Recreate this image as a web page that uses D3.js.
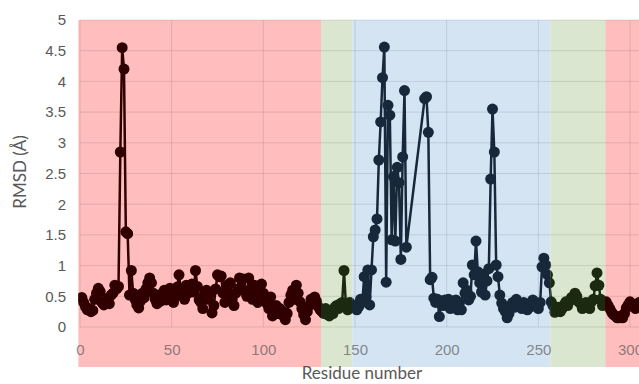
<!DOCTYPE html>
<html>
<head>
<meta charset="utf-8">
<script src="https://cdn.jsdelivr.net/npm/d3@7"></script>
<style>
  body { margin: 0; background: #fff; }
  svg { display: block; font-family: Lato, "Open Sans", sans-serif; }
</style>
</head>
<body>
<script>
// residues 1..178, then 188..305 (gap in the data, line joins across it)
const residues = d3.range(1, 179).concat(d3.range(188, 306));

const rmsdA = [
  0.48, 0.40, 0.33, 0.28, 0.30, 0.25, 0.27, 0.45, 0.55, 0.63,
  0.58, 0.40, 0.36, 0.42, 0.47, 0.38, 0.52, 0.55, 0.68, 0.62,
  0.66, 2.85, 4.55, 4.20, 1.55, 1.52, 0.52, 0.92, 0.55, 0.45,
  0.36, 0.31, 0.42, 0.55, 0.48, 0.62, 0.72, 0.80, 0.72, 0.55,
  0.45, 0.38, 0.50, 0.42, 0.55, 0.60, 0.44, 0.52, 0.63, 0.58,
  0.40, 0.50, 0.65, 0.85, 0.62, 0.57, 0.45, 0.68, 0.55, 0.62,
  0.70, 0.57, 0.92, 0.66, 0.44, 0.40, 0.30, 0.55, 0.60, 0.45,
  0.55, 0.23, 0.35, 0.62, 0.85, 0.82, 0.83, 0.55, 0.40, 0.68,
  0.50, 0.72, 0.45, 0.35, 0.55, 0.62, 0.80, 0.65, 0.78, 0.58,
  0.50, 0.80, 0.60, 0.45, 0.68, 0.55, 0.40, 0.62, 0.70, 0.55,
  0.45, 0.38, 0.30, 0.49, 0.18, 0.25, 0.35, 0.22, 0.30, 0.20,
  0.25, 0.12, 0.22, 0.40, 0.52, 0.60, 0.45, 0.68, 0.55, 0.41,
  0.30, 0.20, 0.12, 0.25, 0.35, 0.45, 0.38, 0.49, 0.42, 0.33,
  0.28, 0.25, 0.22, 0.30, 0.20, 0.18, 0.26, 0.22, 0.32, 0.35,
  0.30, 0.38, 0.40, 0.92, 0.38, 0.28, 0.40, 0.35, 0.32, 0.35,
  0.28, 0.33, 0.45, 0.40, 0.82, 0.49, 0.93, 0.36, 0.93, 1.47,
  1.58, 1.76, 2.72, 3.34, 4.06, 4.56, 0.73, 3.61, 3.45, 1.42,
  2.45, 1.40, 2.60, 2.35, 1.10, 2.77, 3.85, 1.30
];
const rmsdB = [
  3.72, 3.75, 3.17,
  0.77, 0.81, 0.47, 0.40, 0.45, 0.17, 0.42, 0.35, 0.44, 0.38,
  0.45, 0.30, 0.42, 0.36, 0.44, 0.28, 0.40, 0.28, 0.72, 0.55,
  0.60, 0.44, 0.50, 1.01, 0.85, 1.40, 0.90, 0.72, 0.57, 0.86,
  0.52, 0.75, 0.95, 2.41, 3.55, 2.85, 1.01, 0.82, 0.52, 0.39,
  0.30, 0.25, 0.15, 0.22, 0.35, 0.40, 0.32, 0.45, 0.38, 0.33,
  0.30, 0.40, 0.36, 0.28, 0.32, 0.38, 0.44, 0.36, 0.33, 0.30,
  0.40, 0.98, 1.12, 1.01, 0.85, 0.72, 0.41, 0.35, 0.24, 0.28,
  0.32, 0.25, 0.30, 0.36, 0.41, 0.35, 0.42, 0.48, 0.45, 0.55,
  0.50, 0.41, 0.38, 0.30, 0.36, 0.40, 0.33, 0.30, 0.41, 0.45,
  0.67, 0.88, 0.68, 0.45, 0.35, 0.40, 0.41, 0.35, 0.30, 0.24,
  0.20, 0.18, 0.15, 0.15, 0.18, 0.15, 0.22, 0.31, 0.36, 0.41,
  0.38, 0.33, 0.30, 0.36, 0.40
];
const rmsd = rmsdA.concat(rmsdB);

const xTicks = [0, 50, 100, 150, 200, 250, 300, 350];
const yTicks = [0, 0.5, 1, 1.5, 2, 2.5, 3, 3.5, 4, 4.5, 5];

// domain regions: [start, end, band colour, mark colour]
const bandStarts = [-1, 131.5, 148.5, 256.5, 286.5];
const bandEnds   = [131.5, 148.5, 256.5, 286.5, 360];
const bandFill   = ['#ffbdbd', '#dae6cf', '#d4e4f3', '#dae6cf', '#ffbdbd'];
const markFill   = ['#300000', '#1c2a12', '#17283a', '#1c2a12', '#300000'];

const data = residues.map((r, i) => ({ r: r, v: rmsd[i] }));

const W = 639, H = 384;
const svg = d3.select('body').append('svg')
  .attr('width', W).attr('height', H);

const x = d3.scaleLinear().domain([0, 300]).range([80, 630]);
const y = d3.scaleLinear().domain([0, 5]).range([327, 20]);

// background bands
svg.append('g').selectAll('rect')
  .data(bandStarts)
  .join('rect')
  .attr('x', (d, i) => x(d) + (i === 0 ? 0.2 : 0))
  .attr('y', 20)
  .attr('width', (d, i) => x(bandEnds[i]) - x(d))
  .attr('height', 347)
  .attr('fill', (d, i) => bandFill[i]);

// gridlines
const grid = svg.append('g').attr('stroke', '#000').attr('stroke-opacity', 0.1);
grid.selectAll('.h').data(yTicks).join('line')
  .attr('x1', x(0)).attr('x2', W)
  .attr('y1', d => y(d)).attr('y2', d => y(d));
grid.selectAll('.v').data(xTicks).join('line')
  .attr('x1', d => x(d)).attr('x2', d => x(d))
  .attr('y1', y(5)).attr('y2', y(0));

// axes text
const yAxis = svg.append('g')
  .attr('transform', 'translate(' + x(0) + ',0)')
  .call(d3.axisLeft(y).tickValues(yTicks).tickFormat(d => String(d))
    .tickSize(0).tickPadding(14));
yAxis.select('.domain').remove();
yAxis.selectAll('text').attr('fill', '#595959').style('font-size', '15px');

const xAxis = svg.append('g')
  .attr('transform', 'translate(0,' + y(0) + ')')
  .call(d3.axisBottom(x).tickValues(xTicks).tickFormat(d => String(d))
    .tickSize(0).tickPadding(17));
xAxis.select('.domain').remove();
xAxis.selectAll('text').attr('fill', '#595959').attr('fill-opacity', 0.7)
  .style('font-size', '15px');

svg.append('text')
  .attr('x', 362).attr('y', 379)
  .attr('text-anchor', 'middle')
  .attr('fill', '#595959')
  .style('font-size', '17px')
  .text('Residue number');

svg.append('text')
  .attr('transform', 'translate(26,172) rotate(-90)')
  .attr('text-anchor', 'middle')
  .attr('fill', '#595959')
  .style('font-size', '17px')
  .text('RMSD (Å)');

// series, drawn once per band and clipped so the colour follows the band
const line = d3.line().x(d => x(d.r)).y(d => y(d.v));
const defs = svg.append('defs');
bandStarts.forEach((s, i) => {
  defs.append('clipPath').attr('id', 'clip' + i)
    .append('rect')
    .attr('x', x(s)).attr('y', 0)
    .attr('width', x(bandEnds[i]) - x(s)).attr('height', H);

  const g = svg.append('g').attr('clip-path', 'url(#clip' + i + ')');
  g.append('path')
    .datum(data)
    .attr('d', line)
    .attr('fill', 'none')
    .attr('stroke', markFill[i])
    .attr('stroke-width', 2.5)
    .attr('stroke-linejoin', 'round');
  g.selectAll('circle')
    .data(data)
    .join('circle')
    .attr('cx', d => x(d.r))
    .attr('cy', d => y(d.v))
    .attr('r', 5.5)
    .attr('fill', markFill[i]);
});
</script>
</body>
</html>
